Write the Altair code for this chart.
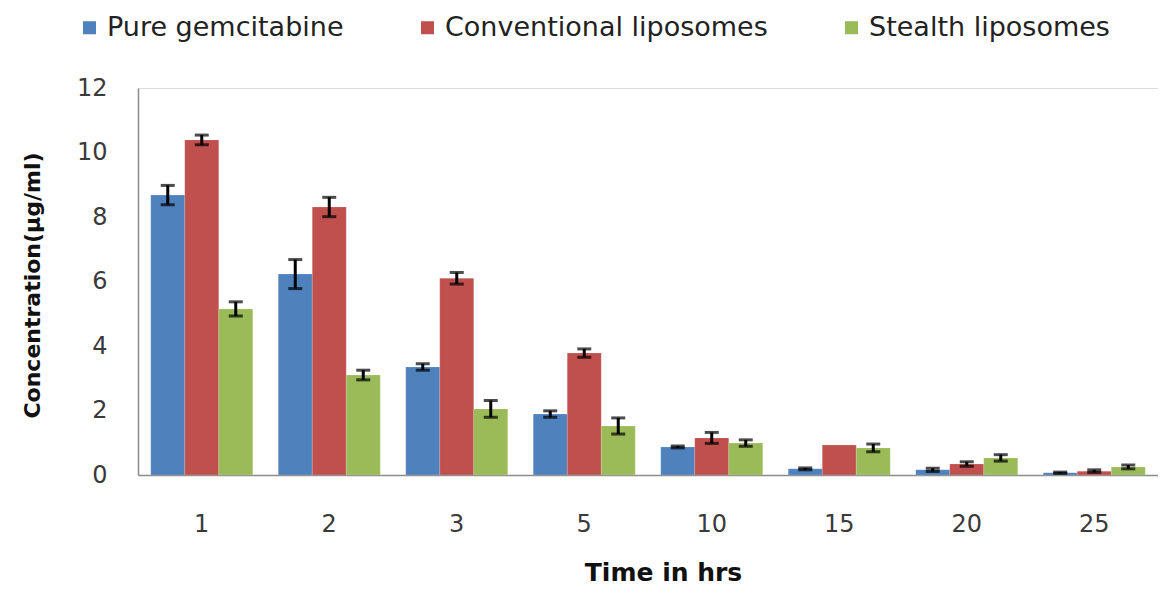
import altair as alt
import pandas as pd

times = ["1", "2", "3", "5", "10", "15", "20", "25"]
series = ["Pure gemcitabine", "Conventional liposomes", "Stealth liposomes"]
colors = ["#4F81BD", "#C0504D", "#9BBB59"]

pure = [8.68, 6.23, 3.35, 1.89, 0.87, 0.19, 0.16, 0.07]
pure_err = [0.30, 0.45, 0.10, 0.10, 0.03, 0.03, 0.05, 0.02]
conv = [10.39, 8.31, 6.10, 3.78, 1.15, 0.93, 0.34, 0.12]
conv_err = [0.15, 0.30, 0.18, 0.13, 0.17, 0.0, 0.07, 0.04]
stealth = [5.15, 3.10, 2.05, 1.52, 0.99, 0.84, 0.53, 0.25]
stealth_err = [0.22, 0.15, 0.26, 0.25, 0.10, 0.12, 0.10, 0.06]

rows = []
for name, vals, errs in [(series[0], pure, pure_err), (series[1], conv, conv_err), (series[2], stealth, stealth_err)]:
    for t, v, e in zip(times, vals, errs):
        rows.append({"time": t, "series": name, "value": v, "lo": v - e, "hi": v + e, "err": e})
df = pd.DataFrame(rows)

FONT = "DejaVu Sans"

x = alt.X("time:N", sort=times, scale=alt.Scale(paddingInner=0.2, paddingOuter=0.1),
          axis=alt.Axis(title="Time in hrs", labelAngle=0, ticks=False, labelPadding=37,
                        labelFontSize=24, labelColor="#3a3a3a", labelFont=FONT,
                        titleFontSize=25, titleFont=FONT, titleFontWeight="bold", titleColor="#111111",
                        titleX=525, titleY=105, titleBaseline="alphabetic",
                        domainColor="#8c8c8c", domainWidth=1.5))
xo = alt.XOffset("series:N", sort=series)
y = alt.Y("value:Q", scale=alt.Scale(domain=[0, 12], nice=False),
          axis=alt.Axis(title="Concentration(µg/ml)", values=[0, 2, 4, 6, 8, 10, 12], grid=False,
                        ticks=False, labelPadding=31, labelFontSize=24, labelColor="#3a3a3a",
                        labelFont=FONT, titleFontSize=22, titleFont=FONT, titleFontWeight="bold",
                        titleColor="#111111", titleX=-106, titleY=197, titleBaseline="middle",
                        titleAngle=-90, titleAlign="center",
                        domainColor="#8c8c8c", domainWidth=1.5))

bars = alt.Chart(df).mark_bar(stroke="#ffffff", strokeWidth=0.5, strokeOpacity=0.3).encode(
    x=x, xOffset=xo, y=y,
    color=alt.Color("series:N", sort=series,
                    scale=alt.Scale(domain=series, range=colors),
                    legend=alt.Legend(title=None, orient="none", direction="horizontal",
                                      legendX=-62, legendY=-74, symbolType="square",
                                      symbolSize=170, symbolStrokeWidth=0, labelFontSize=27,
                                      labelFont=FONT, labelColor="#222222", columnPadding=70,
                                      labelOffset=4, labelLimit=0)),
)

err_df = df[df["err"] > 0]
rules = alt.Chart(err_df).mark_rule(color="black", strokeWidth=3).encode(
    x=alt.X("time:N", sort=times), xOffset=xo, y="lo:Q", y2="hi:Q")
cap_hi = alt.Chart(err_df).mark_tick(color="black", thickness=3, size=14, orient="horizontal").encode(
    x=alt.X("time:N", sort=times), xOffset=xo, y="hi:Q")
cap_lo = alt.Chart(err_df).mark_tick(color="black", thickness=3, size=14, orient="horizontal").encode(
    x=alt.X("time:N", sort=times), xOffset=xo, y="lo:Q")

chart = alt.layer(bars, rules, cap_hi, cap_lo).properties(
    width=1020, height=387,
    autosize=alt.AutoSizeParams(type="none"),
    padding={"left": 130, "top": 80, "right": 0, "bottom": 111},
).configure_view(stroke=None).configure(background="white")

chart.save("out.html", embed_options={"renderer": "svg", "actions": False})
